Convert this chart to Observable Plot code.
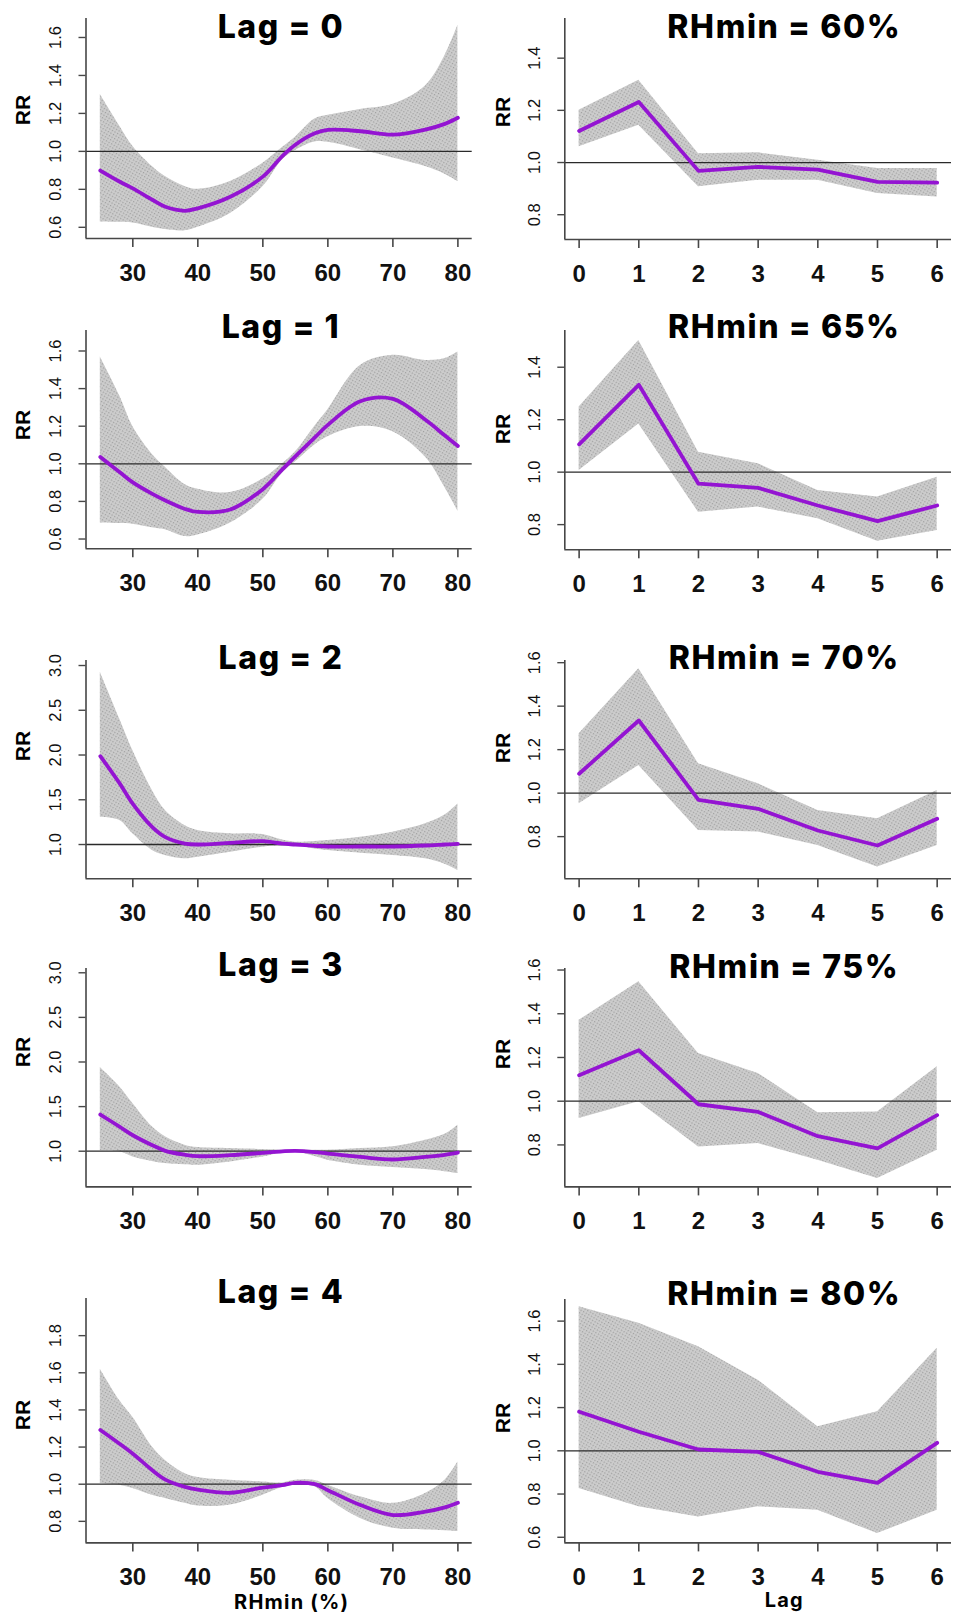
<!DOCTYPE html>
<html>
<head>
<meta charset="utf-8">
<script src="https://cdn.jsdelivr.net/npm/d3@7"></script>
<script src="https://cdn.jsdelivr.net/npm/@observablehq/plot@0.6"></script>
<style>
  body { margin: 0; background: #fff; }
  #root { position: relative; width: 953px; height: 1614px; overflow: hidden; background: #fff; }
  .panel { position: absolute; }
  .title { position: absolute; transform: translate(-50%, -50%); font-family: Inter, "Open Sans", sans-serif; font-weight: 800; font-size: 32px; letter-spacing: 1.6px; white-space: nowrap; color: #000; line-height: 1; }
  .ylab { position: absolute; transform: translate(-50%, -50%) rotate(-90deg); font-family: "Liberation Sans", Arial, sans-serif; font-weight: 700; font-size: 21px; white-space: nowrap; color: #000; line-height: 1; }
  .xlab { position: absolute; transform: translate(-50%, -50%); font-family: Inter, "Open Sans", sans-serif; font-weight: 700; font-size: 20px; letter-spacing: 1.2px; white-space: nowrap; color: #000; line-height: 1; }
  svg [aria-label="x-axis tick label"] { font-size: 24px; font-weight: 700; }
</style>
</head>
<body>
<svg width="0" height="0" style="position:absolute">
  <defs>
    <pattern id="band" width="3" height="3" patternUnits="userSpaceOnUse" patternTransform="rotate(30)">
      <rect width="3" height="3" fill="#cdcdcd"></rect>
      <rect x="0" y="0" width="1.3" height="1.3" fill="#808080" opacity="0.6"></rect>
    </pattern>
  </defs>
</svg>
<div id="root"></div>
<script>
// ---------- data ----------
const rhGrid = [25, 28, 30, 33, 35, 38, 40, 45, 50, 53, 55, 58, 60, 65, 70, 75, 78, 80];
const lags = [0, 1, 2, 3, 4, 5, 6];

// RR vs RHmin at a given lag (left column)
const lag0RR = [0.899, 0.84, 0.805, 0.745, 0.708, 0.687, 0.70, 0.761, 0.867, 0.975, 1.035, 1.095, 1.113, 1.106, 1.088, 1.115, 1.145, 1.177];
const lag0Lo = [0.628, 0.626, 0.623, 0.60, 0.588, 0.582, 0.60, 0.673, 0.814, 0.955, 1.005, 1.05, 1.048, 1.009, 0.965, 0.920, 0.88, 0.841];
const lag0Hi = [1.30, 1.133, 1.027, 0.92, 0.867, 0.815, 0.80, 0.841, 0.938, 1.02, 1.075, 1.17, 1.19, 1.221, 1.248, 1.345, 1.504, 1.664];

const lag1RR = [1.036, 0.955, 0.901, 0.84, 0.805, 0.76, 0.744, 0.757, 0.865, 0.97, 1.04, 1.14, 1.207, 1.333, 1.345, 1.234, 1.15, 1.095];
const lag1Lo = [0.685, 0.682, 0.679, 0.66, 0.649, 0.613, 0.622, 0.685, 0.811, 0.95, 1.009, 1.10, 1.144, 1.198, 1.171, 1.036, 0.874, 0.748];
const lag1Hi = [1.568, 1.36, 1.198, 1.05, 0.982, 0.89, 0.865, 0.847, 0.919, 1.00, 1.063, 1.20, 1.288, 1.523, 1.577, 1.55, 1.56, 1.595];

const lag2RR = [1.987, 1.68, 1.454, 1.194, 1.082, 1.01, 1.0, 1.019, 1.037, 1.01, 1.0, 0.985, 0.978, 0.978, 0.978, 0.989, 1.0, 1.007];
const lag2Lo = [1.305, 1.268, 1.119, 0.933, 0.877, 0.84, 0.858, 0.914, 0.97, 0.985, 0.989, 0.95, 0.933, 0.903, 0.877, 0.84, 0.78, 0.709];
const lag2Hi = [2.925, 2.40, 2.05, 1.603, 1.38, 1.212, 1.156, 1.119, 1.112, 1.05, 1.026, 1.035, 1.045, 1.082, 1.138, 1.231, 1.33, 1.454];

const lag3RR = [1.411, 1.273, 1.179, 1.067, 1.004, 0.96, 0.944, 0.955, 0.981, 0.998, 1.004, 0.99, 0.974, 0.936, 0.907, 0.936, 0.96, 0.985];
const lag3Lo = [1.004, 0.993, 0.936, 0.885, 0.862, 0.848, 0.843, 0.88, 0.936, 0.98, 0.993, 0.94, 0.899, 0.843, 0.817, 0.794, 0.77, 0.749];
const lag3Hi = [1.938, 1.721, 1.535, 1.273, 1.161, 1.067, 1.041, 1.03, 1.019, 1.012, 1.011, 1.011, 1.011, 1.03, 1.049, 1.123, 1.19, 1.292];

const lag4RR = [1.292, 1.217, 1.164, 1.075, 1.025, 0.986, 0.971, 0.954, 0.982, 0.995, 1.007, 1.0, 0.968, 0.888, 0.834, 0.852, 0.875, 0.90];
const lag4Lo = [1.004, 0.995, 0.977, 0.94, 0.923, 0.897, 0.882, 0.888, 0.941, 0.982, 0.995, 0.986, 0.923, 0.816, 0.763, 0.754, 0.75, 0.745];
const lag4Hi = [1.619, 1.449, 1.36, 1.2, 1.128, 1.057, 1.036, 1.021, 1.012, 1.007, 1.021, 1.02, 0.995, 0.932, 0.897, 0.95, 1.021, 1.119];

// RR vs lag at a given RHmin (right column)
const rh60RR = [1.121, 1.232, 0.968, 0.983, 0.973, 0.926, 0.923];
const rh60Lo = [1.06, 1.143, 0.907, 0.932, 0.932, 0.881, 0.868];
const rh60Hi = [1.20, 1.315, 1.034, 1.037, 1.009, 0.977, 0.977];

const rh65RR = [1.106, 1.333, 0.956, 0.940, 0.873, 0.813, 0.873];
const rh65Lo = [1.006, 1.184, 0.847, 0.867, 0.822, 0.737, 0.778];
const rh65Hi = [1.248, 1.502, 1.076, 1.032, 0.93, 0.905, 0.981];

const rh70RR = [1.089, 1.334, 0.969, 0.928, 0.828, 0.759, 0.882];
const rh70Lo = [0.951, 1.127, 0.828, 0.821, 0.759, 0.66, 0.759];
const rh70Hi = [1.273, 1.572, 1.135, 1.043, 0.92, 0.882, 1.012];

const rh75RR = [1.119, 1.233, 0.986, 0.951, 0.84, 0.784, 0.936];
const rh75Lo = [0.921, 0.997, 0.791, 0.806, 0.73, 0.646, 0.776];
const rh75Hi = [1.37, 1.546, 1.218, 1.127, 0.947, 0.951, 1.157];

const rh80RR = [1.181, 1.088, 1.006, 0.995, 0.903, 0.852, 1.037];
const rh80Lo = [0.826, 0.741, 0.694, 0.741, 0.725, 0.617, 0.725];
const rh80Hi = [1.667, 1.59, 1.481, 1.327, 1.111, 1.181, 1.474];

// titles and tick values
const leftTitles = ["Lag = 0", "Lag = 1", "Lag = 2", "Lag = 3", "Lag = 4"];
const rightTitles = ["RHmin = 60%", "RHmin = 65%", "RHmin = 70%", "RHmin = 75%", "RHmin = 80%"];
const rhTicks = [30, 40, 50, 60, 70, 80];
const lagTicks = [0, 1, 2, 3, 4, 5, 6];
const yTicksA = [0.6, 0.8, 1.0, 1.2, 1.4, 1.6];
const yTicksB = [1.0, 1.5, 2.0, 2.5, 3.0];
const yTicksC = [0.8, 1.0, 1.2, 1.4, 1.6, 1.8];
const yTicksD = [0.8, 1.0, 1.2, 1.4];
const yTicksE = [0.8, 1.0, 1.2, 1.4, 1.6];
const xLabelLeft = "RHmin (%)";
const xLabelRight = "Lag";
const yLabel = "RR";

// ---------- layout ----------
const root = document.getElementById("root");
const fmt = d3.format(".1f");

function rows(xs, rr, lo, hi) {
  return xs.map((x, i) => ({x, rr: rr[i], lo: lo[i], hi: hi[i]}));
}

const leftCol = {left: 0, width: 476, frameLeft: 85.5, frameRight: 471.7, xDomain: [22.8, 82.2], xTicks: rhTicks, curve: "catmull-rom", titleX: 281, ylabX: 21.7};
const rightCol = {left: 476, width: 477, frameLeft: 564.3, frameRight: 951, xDomain: [-0.24, 6.24], xTicks: lagTicks, curve: "linear", titleX: 784.3, ylabX: 502};

const panels = [
  {col: leftCol, data: rows(rhGrid, lag0RR, lag0Lo, lag0Hi), title: leftTitles[0], top: 18.3, bottom: 238.3, yDomain: [0.541, 1.70], yTicks: yTicksA, titleY: 26.7, ylabY: 110},
  {col: rightCol, data: rows(lags, rh60RR, rh60Lo, rh60Hi), title: rightTitles[0], top: 18.3, bottom: 239.3, yDomain: [0.705, 1.552], yTicks: yTicksD, titleY: 26.7, ylabY: 112},
  {col: leftCol, data: rows(rhGrid, lag1RR, lag1Lo, lag1Hi), title: leftTitles[1], top: 330, bottom: 548.3, yDomain: [0.548, 1.709], yTicks: yTicksA, titleY: 326.7, ylabY: 425},
  {col: rightCol, data: rows(lags, rh65RR, rh65Lo, rh65Hi), title: rightTitles[1], top: 330, bottom: 549.3, yDomain: [0.704, 1.540], yTicks: yTicksD, titleY: 326.7, ylabY: 429},
  {col: leftCol, data: rows(rhGrid, lag2RR, lag2Lo, lag2Hi), title: leftTitles[2], top: 660, bottom: 878.3, yDomain: [0.617, 3.056], yTicks: yTicksB, titleY: 658.3, ylabY: 746},
  {col: rightCol, data: rows(lags, rh70RR, rh70Lo, rh70Hi), title: rightTitles[2], top: 660, bottom: 878.3, yDomain: [0.606, 1.610], yTicks: yTicksE, titleY: 657.5, ylabY: 748},
  {col: leftCol, data: rows(rhGrid, lag3RR, lag3Lo, lag3Hi), title: leftTitles[3], top: 968.3, bottom: 1186.7, yDomain: [0.600, 3.048], yTicks: yTicksB, titleY: 965, ylabY: 1052},
  {col: rightCol, data: rows(lags, rh75RR, rh75Lo, rh75Hi), title: rightTitles[3], top: 968.3, bottom: 1186.7, yDomain: [0.608, 1.607], yTicks: yTicksE, titleY: 966.7, ylabY: 1054},
  {col: leftCol, data: rows(rhGrid, lag4RR, lag4Lo, lag4Hi), title: leftTitles[4], top: 1298.3, bottom: 1542.7, yDomain: [0.684, 2.0], yTicks: yTicksC, titleY: 1292.3, ylabY: 1415},
  {col: rightCol, data: rows(lags, rh80RR, rh80Lo, rh80Hi), title: rightTitles[4], top: 1299.3, bottom: 1542.7, yDomain: [0.574, 1.70], yTicks: yTicksA, titleY: 1294, ylabY: 1418}
];

const axisColor = "#474747";

for (const p of panels) {
  const c = p.col;
  const mTop = 12, mBottom = 52;
  const height = (p.bottom - p.top) + mTop + mBottom;
  const svg = Plot.plot({
    width: c.width,
    height,
    marginLeft: c.frameLeft - c.left,
    marginRight: c.left + c.width - c.frameRight,
    marginTop: mTop,
    marginBottom: mBottom,
    style: {background: "transparent", overflow: "visible", fontFamily: "'Liberation Sans', Arial, sans-serif", color: "#000"},
    x: {domain: c.xDomain},
    y: {domain: p.yDomain},
    marks: [
      Plot.areaY(p.data, {x: "x", y1: "lo", y2: "hi", fill: "url(#band)", curve: c.curve}),
      Plot.ruleY([1], {stroke: "#2a2a2a", strokeWidth: 1.3}),
      Plot.line(p.data, {x: "x", y: "rr", stroke: "#9414d2", strokeWidth: 3.8, curve: c.curve}),
      Plot.ruleX([c.xDomain[0]], {stroke: axisColor, strokeWidth: 1.6}),
      Plot.ruleY([p.yDomain[0]], {stroke: axisColor, strokeWidth: 1.6}),
      Plot.axisX(c.xTicks, {tickSize: 9, tickPadding: 16, stroke: axisColor, strokeWidth: 1.6, label: null, tickFormat: d => String(d), fill: "#111"}),
      Plot.axisY(p.yTicks, {tickSize: 7, stroke: axisColor, strokeWidth: 1.4, label: null, tickFormat: () => ""}),
      Plot.text(p.yTicks, {y: d => d, text: d => fmt(d), frameAnchor: "left", rotate: -90, textAnchor: "middle", lineAnchor: "middle", dx: -30, fontSize: 16.5, fill: "#111"})
    ]
  });
  svg.classList.add("panel");
  svg.style.left = c.left + "px";
  svg.style.top = (p.top - mTop) + "px";
  svg.style.position = "absolute";
  root.appendChild(svg);

  const t = document.createElement("div");
  t.className = "title";
  t.textContent = p.title;
  t.style.left = c.titleX + "px";
  t.style.top = p.titleY + "px";
  root.appendChild(t);

  const yl = document.createElement("div");
  yl.className = "ylab";
  yl.textContent = yLabel;
  yl.style.left = c.ylabX + "px";
  yl.style.top = p.ylabY + "px";
  root.appendChild(yl);
}

const xl1 = document.createElement("div");
xl1.className = "xlab";
xl1.textContent = xLabelLeft;
xl1.style.left = "291.7px";
xl1.style.top = "1601.7px";
root.appendChild(xl1);

const xl2 = document.createElement("div");
xl2.className = "xlab";
xl2.textContent = xLabelRight;
xl2.style.left = "784.3px";
xl2.style.top = "1600px";
root.appendChild(xl2);
</script>
</body>
</html>
